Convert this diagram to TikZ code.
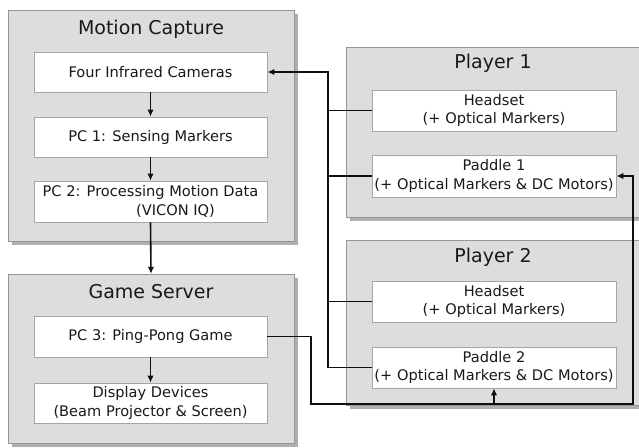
\documentclass[tikz,border=0pt]{standalone}
\usepackage{fontspec}
\setmainfont{DejaVu Sans}
\usetikzlibrary{arrows.meta,calc}
\definecolor{groupfill}{RGB}{221,221,221}
\definecolor{groupedge}{RGB}{150,150,150}
\definecolor{shadowc}{RGB}{175,175,175}
\definecolor{boxedge}{RGB}{165,165,165}
\definecolor{linec}{RGB}{15,15,15}
\begin{document}
\begin{tikzpicture}[x=1pt,y=-1pt,
  group/.style={fill=groupfill,draw=groupedge,line width=0.8pt},
  gshadow/.style={fill=shadowc,draw=none},
  title/.style={font=\fontsize{19}{22}\selectfont,text=black!90,inner sep=0pt},
  item/.style={draw=boxedge,fill=white,line width=0.8pt,minimum width=233pt,minimum height=40pt,inner sep=0pt,align=center,font=\fontsize{14.6}{18.5}\selectfont,text=black!90},
  pitem/.style={item,minimum width=244pt,minimum height=41pt},
  conn/.style={draw=linec,line width=1.6pt},
  arr/.style={conn,-{Latex[length=7pt,width=6.5pt]}}]
\useasboundingbox (0,0) rectangle (639,447);
\fill[white] (0,0) rectangle (639,447);
% shadows
\fill[gshadow] (12,14) rectangle (298,245);
\fill[gshadow] (12,278) rectangle (298,447);
\fill[gshadow] (350,51) rectangle (650,221);
\fill[gshadow] (350,244) rectangle (650,409);
% group boxes
\path[group] (8,10) rectangle (294,241);
\path[group] (8,274) rectangle (294,443);
\path[group] (346,47) rectangle (646,217);
\path[group] (346,240) rectangle (646,405);
\node[minimum width=286pt,minimum height=169pt,inner sep=0pt] (gs) at (151,358.5) {};
% titles
\node[title] (tmc) at (151,29) {Motion Capture};
\node[title] (tgs) at (151,292) {Game Server};
\node[title] (tp1) at (493,63) {Player 1};
\node[title] (tp2) at (493,257) {Player 2};
% items
\node[item] (cam) at (150.5,72) {Four Infrared Cameras};
\node[item] (pc1) at (150.5,137) {PC 1: Sensing Markers};
\node[item,minimum height=41pt] (pc2) at (150.5,201.5) {PC 2: Processing Motion Data\\\hspace*{50pt}(VICON IQ)};
\node[item,minimum height=41pt] (pc3) at (150.5,336.5) {PC 3: Ping-Pong Game};
\node[item] (disp) at (150.5,403) {Display Devices\\(Beam Projector \& Screen)};
\node[pitem] (h1) at (494,110.5) {Headset\\(+ Optical Markers)};
\node[pitem,minimum height=42pt] (pd1) at (494,176) {Paddle 1\\(+ Optical Markers \& DC Motors)};
\node[pitem] (h2) at (494,301.5) {Headset\\(+ Optical Markers)};
\node[pitem] (pd2) at (494,367.5) {Paddle 2\\(+ Optical Markers \& DC Motors)};
% helper coordinates
\coordinate (bus) at (328,72);
\coordinate (c1) at (311,404);
\coordinate (c2) at (633,404);
% vertical arrows
\draw[arr] (cam.south) -- (pc1.north);
\draw[arr] (pc1.south) -- (pc2.north);
\draw[arr] (pc2.south) -- (gs.north);
\draw[arr] (pc3.south) -- (disp.north);
% bus from players to cameras
\draw[arr] (pd2.west) -- (pd2.west -| bus) -- (bus) -- (cam.east);
\draw[conn] (h1.west) -- (h1.west -| bus);
\draw[conn] (pd1.west) -- (pd1.west -| bus);
\draw[conn] (h2.west) -- (h2.west -| bus);
% game server to paddles
\draw[arr] (pc3.east) -| (c1) -- (c2) |- (pd1.east);
\draw[arr] (pd2.south |- c1) -- (pd2.south);
\end{tikzpicture}
\end{document}
